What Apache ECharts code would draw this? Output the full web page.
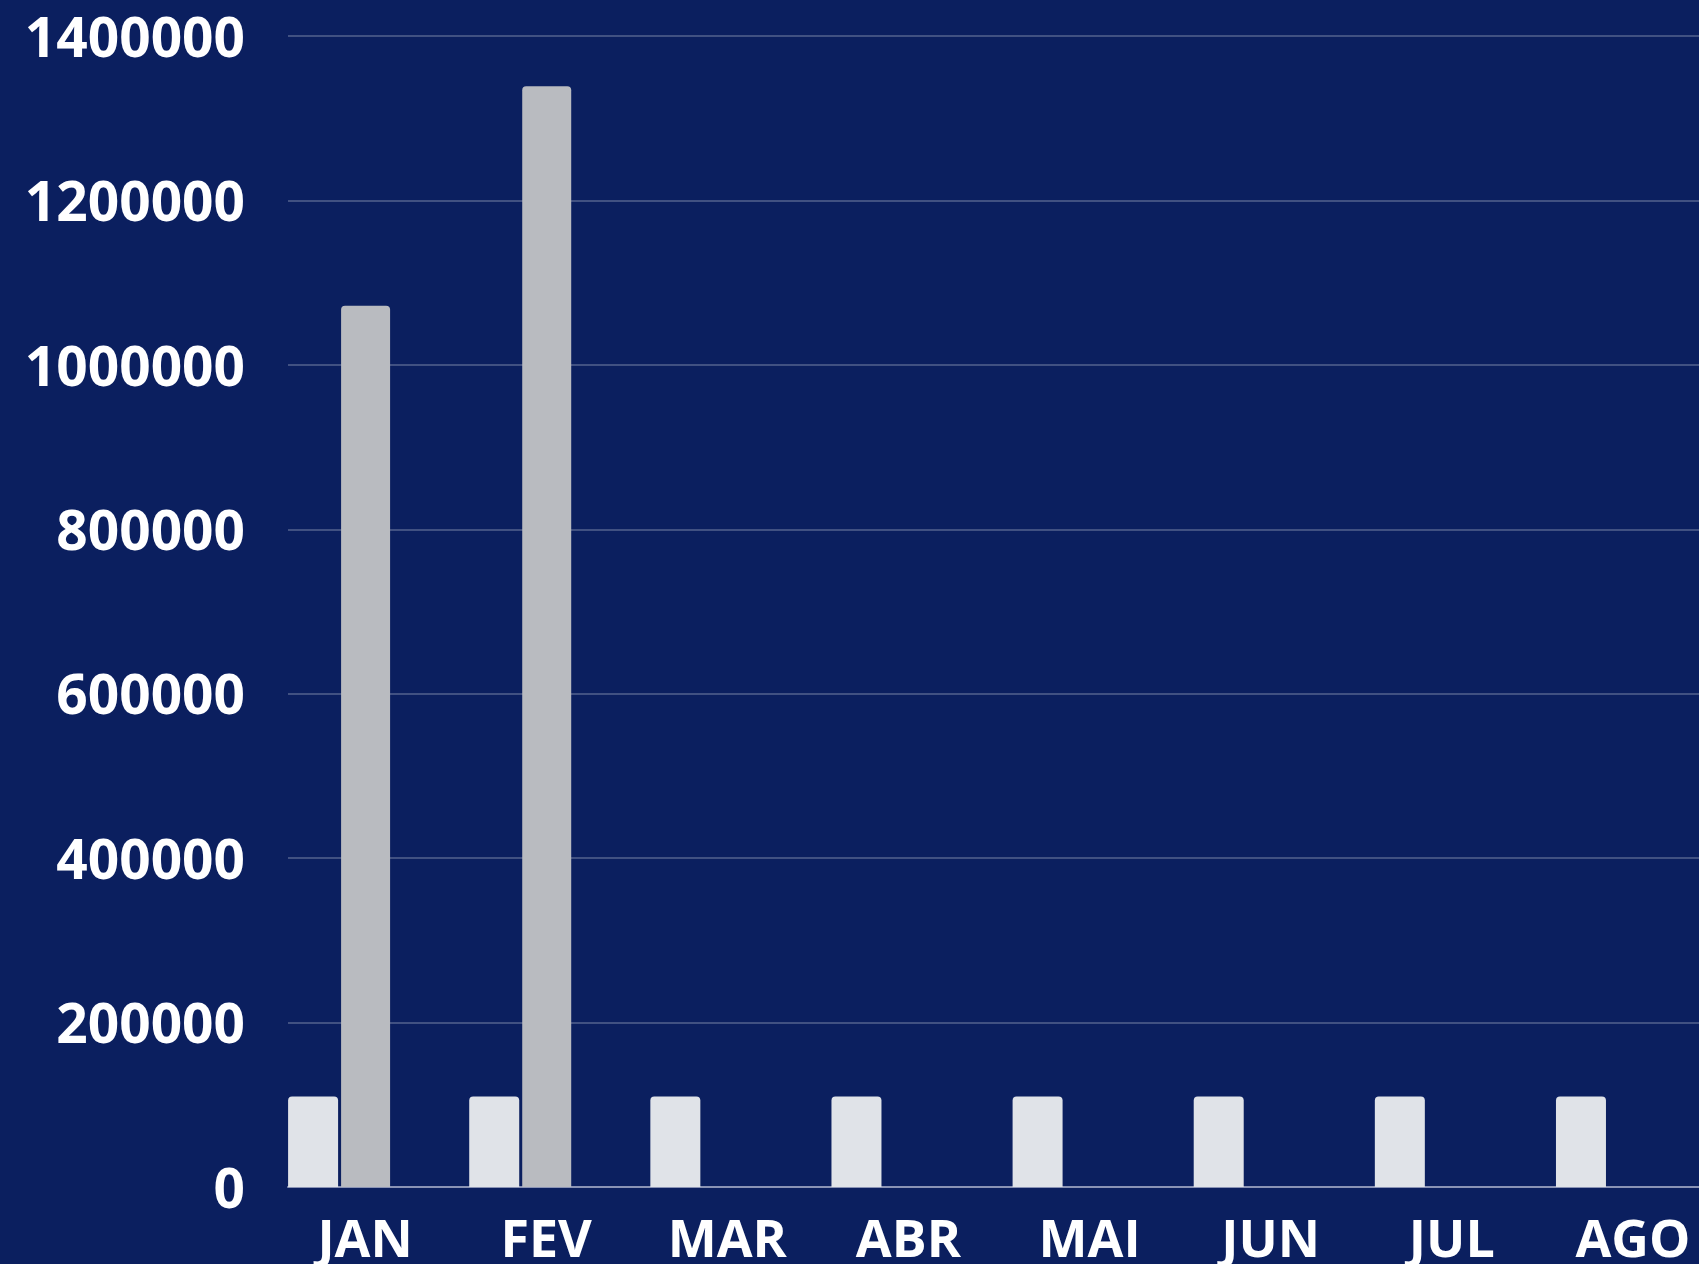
<!DOCTYPE html>
<html>
<head>
<meta charset="utf-8">
<script src="https://cdn.jsdelivr.net/npm/echarts@6/dist/echarts.min.js"></script>
<style>
  html, body { margin: 0; padding: 0; background: #0b1f5f; }
  #container { width: 1699px; height: 1264px; }
</style>
</head>
<body>
<div id="container"></div>
<script>
// dados do grafico
var meses = ['JAN', 'FEV', 'MAR', 'ABR', 'MAI', 'JUN', 'JUL', 'AGO'];
var meta = [110000, 110000, 110000, 110000, 110000, 110000, 110000, 110000];
var realizado = [1072000, 1339000];
var yMax = 1400000;
var yStep = 200000;

var dom = document.getElementById('container');
var myChart = echarts.init(dom);
var fonte = '"Open Sans", "DejaVu Sans", sans-serif';

var option = {
    backgroundColor: '#0b1f5f',
    animation: false,
    grid: [
        // grade das linhas e do eixo y
        {left: 288, right: 0, top: 36, bottom: 77, outerBoundsMode: 'none'},
        // grade das barras (passa da borda direita)
        {left: 274.5, width: 1449, top: 36, bottom: 77, outerBoundsMode: 'none'}
    ],
    xAxis: [
        {
            gridIndex: 0, type: 'value', min: 0, max: 1,
            axisLine: {show: true, lineStyle: {color: '#8a93b5', width: 2}},
            axisTick: {show: false}, axisLabel: {show: false}, splitLine: {show: false}
        },
        {
            gridIndex: 1, type: 'category', data: meses,
            axisLine: {show: false}, axisTick: {show: false},
            axisLabel: {color: '#fff', fontSize: 52, fontWeight: 'bold', fontFamily: fonte, margin: 29}
        }
    ],
    yAxis: [
        {
            gridIndex: 0, type: 'value', min: 0, max: yMax, interval: yStep,
            axisLine: {show: false}, axisTick: {show: false},
            axisLabel: {
                color: '#fff', fontSize: 55, fontWeight: 'bold', fontFamily: fonte, margin: 43,
                formatter: function (v) { return '{n|' + v + '}'; },
                rich: {n: {color: '#fff', fontSize: 55, fontWeight: 'bold', fontFamily: fonte, padding: [10, 0, 0, 0]}}
            },
            splitLine: {lineStyle: {color: 'rgba(255,255,255,0.3)', width: 1.5}}
        },
        {
            gridIndex: 1, type: 'value', min: 0, max: yMax, interval: yStep,
            show: false
        }
    ],
    series: [
        {
            name: 'Meta', type: 'bar', xAxisIndex: 1, yAxisIndex: 1,
            data: meta, barWidth: 50, barGap: '6%',
            itemStyle: {color: '#e0e3e8', borderRadius: [4, 4, 0, 0]}
        },
        {
            name: 'Realizado', type: 'bar', xAxisIndex: 1, yAxisIndex: 1,
            data: realizado, barWidth: 49,
            itemStyle: {color: '#b9bbc0', borderRadius: [4, 4, 0, 0]}
        },
        {
            // espaco vazio a direita de cada grupo
            name: 'vazio', type: 'bar', xAxisIndex: 1, yAxisIndex: 1,
            data: [], barWidth: 49
        }
    ]
};

myChart.setOption(option, true);
</script>
</body>
</html>
